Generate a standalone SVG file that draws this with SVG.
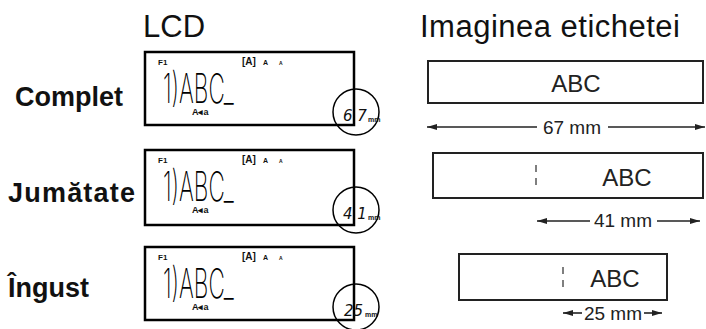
<svg xmlns="http://www.w3.org/2000/svg" width="706" height="329" viewBox="0 0 706 329">
<defs>
<style>
.title{font-family:"Liberation Sans",Arial,sans-serif;font-size:31px;fill:#111}
.row{font-family:"Liberation Sans",Arial,sans-serif;font-size:27px;font-weight:bold;fill:#111}
.lcd{fill:#fff;stroke:#000;stroke-width:2.5}
.sm{font-family:"Liberation Sans",Arial,sans-serif;font-weight:bold;fill:#111}
.big{font-family:Inter,"DejaVu Sans","Liberation Sans",sans-serif;font-weight:200;font-size:41px;fill:#000}
.circ{fill:none;stroke:#000;stroke-width:1.5}
.dig{font-family:"DejaVu Sans","Liberation Sans",sans-serif;font-style:italic;font-weight:200;font-size:15px;fill:#111}
.mm{font-family:"Liberation Sans",sans-serif;font-weight:bold;font-size:7px;fill:#111}
.lab{fill:#fff;stroke:#222;stroke-width:2}
.abc{font-family:"Liberation Sans",Arial,sans-serif;font-size:24px;fill:#222}
.dim{font-family:"Liberation Sans",Arial,sans-serif;font-size:19px;fill:#222}
.ln{stroke:#222;stroke-width:1.6;fill:none}
.sep{stroke:#555;stroke-width:1.5}
</style>
<marker id="ah" viewBox="0 0 10 6" refX="10" refY="3" markerWidth="10" markerHeight="6" markerUnits="userSpaceOnUse" orient="auto-start-reverse">
<path d="M0,0 L10,3 L0,6 Z" fill="#222"/>
</marker>
<g id="lcdContent">
<text class="sm" x="13" y="13" font-size="8">F1</text>
<text class="sm" x="97" y="13" font-size="10">[A]</text>
<text class="sm" x="118" y="13" font-size="7">A</text>
<text class="sm" x="134" y="13" font-size="5">A</text>
<text class="big" transform="translate(18,51) scale(0.55,1)">1)ABC_</text>
<text class="sm" x="47" y="63" font-size="9">A◂a</text>
</g>
</defs>

<text class="title" x="143" y="37">LCD</text>
<text class="title" x="420" y="37" textLength="260">Imaginea etichetei</text>

<g id="label-complet"><text class="row" x="15" y="106">Complet</text></g>
<g id="label-jumatate"><text class="row" x="8" y="202" textLength="127">Jumătate</text></g>
<g id="label-ingust"><text class="row" x="8" y="297">Îngust</text></g>

<g id="lcd1">
<rect class="lcd" x="145" y="52" width="209" height="73"/>
<use href="#lcdContent" transform="translate(145,52)"/>
<circle class="circ" cx="356" cy="112" r="23"/>
<text class="dig" x="343" y="121">6 7</text><text class="mm" x="368" y="122">mm</text>
</g>
<g id="lcd2">
<rect class="lcd" x="145" y="150" width="209" height="75"/>
<use href="#lcdContent" transform="translate(145,150)"/>
<circle class="circ" cx="356" cy="210" r="23"/>
<text class="dig" x="343" y="219">4 1</text><text class="mm" x="368" y="220">mm</text>
</g>
<g id="lcd3">
<rect class="lcd" x="145" y="247" width="209" height="73"/>
<use href="#lcdContent" transform="translate(145,247)"/>
<circle class="circ" cx="356" cy="307" r="23"/>
<text class="dig" x="344" y="316">25</text><text class="mm" x="365" y="317">mm</text>
</g>

<g id="tape1">
<rect class="lab" x="428" y="61" width="275" height="42"/>
<text class="abc" x="576" y="92" text-anchor="middle">ABC</text>
</g>
<g id="tape2">
<rect class="lab" x="433" y="153" width="270" height="45"/>
<line class="sep" x1="536" y1="165" x2="536" y2="172"/><line class="sep" x1="536" y1="178" x2="536" y2="185"/>
<text class="abc" x="627" y="186" text-anchor="middle">ABC</text>
</g>
<g id="tape3">
<rect class="lab" x="459" y="254" width="208" height="46"/>
<line class="sep" x1="563" y1="267" x2="563" y2="274"/><line class="sep" x1="563" y1="280" x2="563" y2="287"/>
<text class="abc" x="615" y="287" text-anchor="middle">ABC</text>
</g>

<g id="connectors">
<line class="ln" x1="537" y1="127" x2="427" y2="127" marker-end="url(#ah)"/>
<line class="ln" x1="608" y1="127" x2="705" y2="127" marker-end="url(#ah)"/>
<text class="dim" x="572" y="134" text-anchor="middle">67 mm</text>
<line class="ln" x1="590" y1="221" x2="537" y2="221" marker-end="url(#ah)"/>
<line class="ln" x1="657" y1="221" x2="700" y2="221" marker-end="url(#ah)"/>
<text class="dim" x="623" y="227" text-anchor="middle">41 mm</text>
<line class="ln" x1="582" y1="313" x2="563" y2="313" marker-end="url(#ah)"/>
<line class="ln" x1="644" y1="313" x2="662" y2="313" marker-end="url(#ah)"/>
<text class="dim" x="613" y="320" text-anchor="middle">25 mm</text>
</g>
</svg>
